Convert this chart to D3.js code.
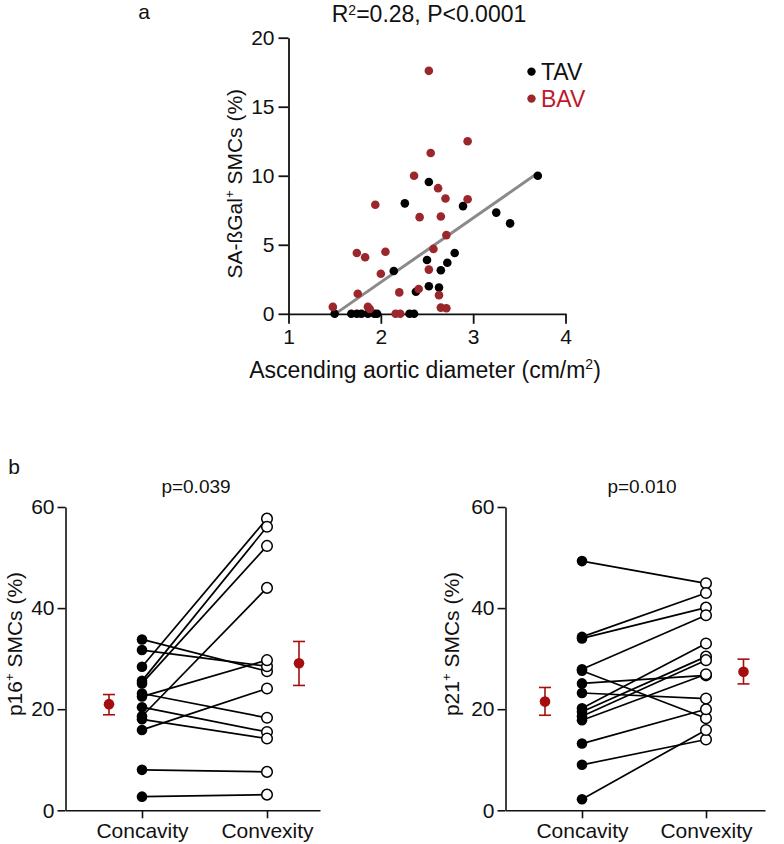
<!DOCTYPE html>
<html>
<head>
<meta charset="utf-8">
<script src="https://cdn.jsdelivr.net/npm/d3@7"></script>
<style>
  body { margin: 0; background: #fff; }
  svg { display: block; font-family: "Liberation Sans", Arial, sans-serif; }
</style>
</head>
<body>
<svg id="chart" width="784" height="844"></svg>
<script>
// ---------- Data: panel a ----------
const tavX = [3.70, 2.52, 2.26, 2.89, 3.25, 3.40, 2.80, 2.50, 2.72, 2.65, 2.14, 2.52, 2.63, 2.38,
              1.50, 1.68, 1.74, 1.79, 1.86, 1.93, 1.96, 2.31, 2.36];
const tavY = [10.0, 9.55, 8.0, 7.8, 7.33, 6.55, 4.4, 3.9, 3.7, 3.15, 3.1, 2.0, 1.9, 1.6,
              0, 0, 0, 0, 0, 0, 0, 0, 0];
const bavX = [2.52, 2.94, 2.54, 2.36, 2.62, 1.94, 2.70, 2.94, 2.42, 2.65, 2.71, 2.57, 1.74, 1.83,
              2.05, 2.00, 2.52, 2.41, 2.20, 1.75, 2.63, 1.48, 1.86, 1.88, 2.16, 2.21, 2.65, 2.71];
const bavY = [17.6, 12.5, 11.65, 10.0, 9.1, 7.9, 8.35, 8.3, 7.0, 7.05, 5.7, 4.7, 4.4, 4.1,
              4.5, 2.9, 3.2, 1.8, 1.55, 1.45, 1.35, 0.5, 0.5, 0.35, 0, 0, 0.45, 0.4];
const fitX = [1.51, 3.68];
const fitSlope = 4.65, fitIntercept = -7.01;
const xTicksA = [1, 2, 3, 4];
const yTicksA = [0, 5, 10, 15, 20];
const legendLabels = ["TAV", "BAV"];

// ---------- Data: panel b ----------
const groups = ["Concavity", "Convexity"];
const yTicksB = [0, 20, 40, 60];
const p16Concavity = [33.8, 31.7, 28.4, 25.6, 25.1, 23.1, 22.5, 20.4, 18.6, 18.0, 15.9, 8.0, 2.7];
const p16Convexity = [27.5, 28.5, 57.7, 56.1, 52.3, 18.3, 29.7, 15.5, 44.0, 14.2, 24.1, 7.6, 3.1];
const p16Mean = [21.0, 29.1];
const p16Low  = [18.9, 24.7];
const p16High = [22.9, 33.4];
const p21Concavity = [49.3, 34.3, 34.0, 27.9, 27.6, 25.1, 23.2, 20.2, 19.5, 18.6, 17.8, 13.2, 9.0, 2.2];
const p21Convexity = [44.9, 43.0, 40.1, 38.6, 18.2, 26.7, 22.1, 33.0, 30.4, 29.7, 26.9, 20.0, 14.0, 15.9];
const p21Mean = [21.5, 27.4];
const p21Low  = [18.8, 25.0];
const p21High = [24.3, 29.9];

const svg = d3.select("#chart");
const FONT = 21;
const BIG = 23;
const red = "#9b272c";
const legendRed = "#c0182a";
const meanRed = "#a50e0e";

// ================= Panel a =================
const xA = d3.scaleLinear().domain([1, 4]).range([288.5, 565.5]);
const yA = d3.scaleLinear().domain([0, 20]).range([313.8, 37.7]);
const gA = svg.append("g");

const axA_y = gA.append("g").attr("transform", `translate(${xA(1)},0)`)
  .call(d3.axisLeft(yA).tickValues(yTicksA).tickFormat(d3.format("d"))
    .tickSize(10).tickSizeOuter(0).tickPadding(4));
const axA_x = gA.append("g").attr("transform", `translate(0,${yA(0)})`)
  .call(d3.axisBottom(xA).tickValues(xTicksA).tickFormat(d3.format("d"))
    .tickSize(10).tickSizeOuter(0).tickPadding(5));
[axA_y, axA_x].forEach(ax => {
  ax.selectAll("path,line").attr("stroke", "#111").attr("stroke-width", 1.8);
  ax.selectAll("text").attr("font-size", FONT).attr("fill", "#111")
    .attr("font-family", "Liberation Sans, Arial, sans-serif");
});

// fit line
gA.append("line")
  .attr("x1", xA(fitX[0])).attr("y1", yA(fitSlope * fitX[0] + fitIntercept))
  .attr("x2", xA(fitX[1])).attr("y2", yA(fitSlope * fitX[1] + fitIntercept))
  .attr("stroke", "#8a8a8a").attr("stroke-width", 3);

// points
gA.selectAll(".tav").data(tavX.map((x, i) => [x, tavY[i]])).join("circle")
  .attr("cx", d => xA(d[0])).attr("cy", d => yA(d[1])).attr("r", 4.3).attr("fill", "#000");
gA.selectAll(".bav").data(bavX.map((x, i) => [x, bavY[i]])).join("circle")
  .attr("cx", d => xA(d[0])).attr("cy", d => yA(d[1])).attr("r", 4.3).attr("fill", red);

// legend
legendLabels.forEach((lab, i) => {
  const ly = 71.6 + i * 27;
  gA.append("circle").attr("cx", 531.5).attr("cy", ly).attr("r", 4.2)
    .attr("fill", i === 0 ? "#000" : red);
  gA.append("text").attr("x", 541).attr("y", ly + 8.2).attr("font-size", BIG)
    .attr("fill", i === 0 ? "#111" : legendRed).text(lab);
});

// titles / labels
const titleA = gA.append("text").attr("x", 429).attr("y", 22).attr("text-anchor", "middle")
  .attr("font-size", BIG).attr("fill", "#111");
titleA.append("tspan").text("R");
titleA.append("tspan").attr("font-size", 14).attr("dy", -7).text("2");
titleA.append("tspan").attr("dy", 7).text("=0.28, P<0.0001");

svg.append("text").attr("x", 144).attr("y", 19).attr("text-anchor", "middle")
  .attr("font-size", FONT).attr("fill", "#111").text("a");

const xlabA = gA.append("text").attr("x", 425).attr("y", 378).attr("text-anchor", "middle")
  .attr("font-size", BIG).attr("fill", "#111");
xlabA.append("tspan").text("Ascending aortic diameter (cm/m");
xlabA.append("tspan").attr("font-size", 14).attr("dy", -9).text("2");
xlabA.append("tspan").attr("dy", 9).text(")");

const ylabA = gA.append("text").attr("transform", `translate(242,${(yA(0) + yA(20)) / 2 + 8}) rotate(-90)`)
  .attr("text-anchor", "middle").attr("font-size", FONT).attr("fill", "#111");
ylabA.append("tspan").text("SA-ßGal");
ylabA.append("tspan").attr("font-size", 13).attr("dy", -8).text("+");
ylabA.append("tspan").attr("dy", 8).text(" SMCs (%)");

// ================= Panel b =================
svg.append("text").attr("x", 14).attr("y", 474).attr("text-anchor", "middle")
  .attr("font-size", FONT).attr("fill", "#111").text("b");

const yB = d3.scaleLinear().domain([0, 60]).range([810.3, 507]);

function pairedPanel(opts) {
  const { axisX, c1, c2, axisEnd, meanL, meanR, conc, conv, mean, low, high, title, titleX, ylab, ylabX } = opts;
  const step = c2 - c1;
  const xB = d3.scaleLinear()
    .domain([(axisX - c1) / step + 1, (axisEnd - c1) / step + 1])
    .range([axisX, axisEnd]);
  const g = svg.append("g");

  const ay = g.append("g").attr("transform", `translate(${axisX},0)`)
    .call(d3.axisLeft(yB).tickValues(yTicksB).tickSize(8).tickSizeOuter(0).tickPadding(3));
  const ax = g.append("g").attr("transform", `translate(0,${yB(0)})`)
    .call(d3.axisBottom(xB).tickValues([1, 2]).tickFormat((d, i) => groups[i])
      .tickSize(8).tickSizeOuter(0).tickPadding(5));
  [ay, ax].forEach(a => {
    a.selectAll("path,line").attr("stroke", "#111").attr("stroke-width", 1.6);
    a.selectAll("text").attr("font-size", FONT).attr("fill", "#111")
      .attr("font-family", "Liberation Sans, Arial, sans-serif");
  });

  // paired lines
  g.selectAll(".pl").data(conc.map((v, i) => [v, conv[i]])).join("line")
    .attr("x1", xB(1)).attr("y1", d => yB(d[0]))
    .attr("x2", xB(2)).attr("y2", d => yB(d[1]))
    .attr("stroke", "#000").attr("stroke-width", 1.7);
  g.selectAll(".cc").data(conc).join("circle")
    .attr("cx", xB(1)).attr("cy", d => yB(d)).attr("r", 5.3).attr("fill", "#000");
  g.selectAll(".cv").data(conv).join("circle")
    .attr("cx", xB(2)).attr("cy", d => yB(d)).attr("r", 5.3)
    .attr("fill", "#fff").attr("stroke", "#000").attr("stroke-width", 1.5);

  // means
  [meanL, meanR].forEach((mx, i) => {
    const px = xB((mx - c1) / step + 1);
    g.append("line").attr("x1", px).attr("x2", px).attr("y1", yB(low[i])).attr("y2", yB(high[i]))
      .attr("stroke", meanRed).attr("stroke-width", 1.6);
    [low[i], high[i]].forEach(v => g.append("line")
      .attr("x1", px - 6).attr("x2", px + 6).attr("y1", yB(v)).attr("y2", yB(v))
      .attr("stroke", meanRed).attr("stroke-width", 1.6));
    g.append("circle").attr("cx", px).attr("cy", yB(mean[i])).attr("r", 5.3).attr("fill", meanRed);
  });

  g.append("text").attr("x", titleX).attr("y", 493).attr("text-anchor", "middle")
    .attr("font-size", 19).attr("fill", "#111").text(title);

  const yl = g.append("text").attr("transform", `translate(${ylabX},644) rotate(-90)`)
    .attr("text-anchor", "middle").attr("font-size", FONT).attr("fill", "#111");
  yl.append("tspan").text(ylab);
  yl.append("tspan").attr("font-size", 13).attr("dy", -8).text("+");
  yl.append("tspan").attr("dy", 8).text(" SMCs (%)");
}

pairedPanel({ axisX: 65.5, c1: 142, c2: 267, axisEnd: 320, meanL: 109, meanR: 299,
  conc: p16Concavity, conv: p16Convexity, mean: p16Mean, low: p16Low, high: p16High,
  title: "p=0.039", titleX: 196, ylab: "p16", ylabX: 22 });
pairedPanel({ axisX: 505.5, c1: 582, c2: 706, axisEnd: 765, meanL: 545, meanR: 743.5,
  conc: p21Concavity, conv: p21Convexity, mean: p21Mean, low: p21Low, high: p21High,
  title: "p=0.010", titleX: 642, ylab: "p21", ylabX: 459 });
</script>
</body>
</html>
